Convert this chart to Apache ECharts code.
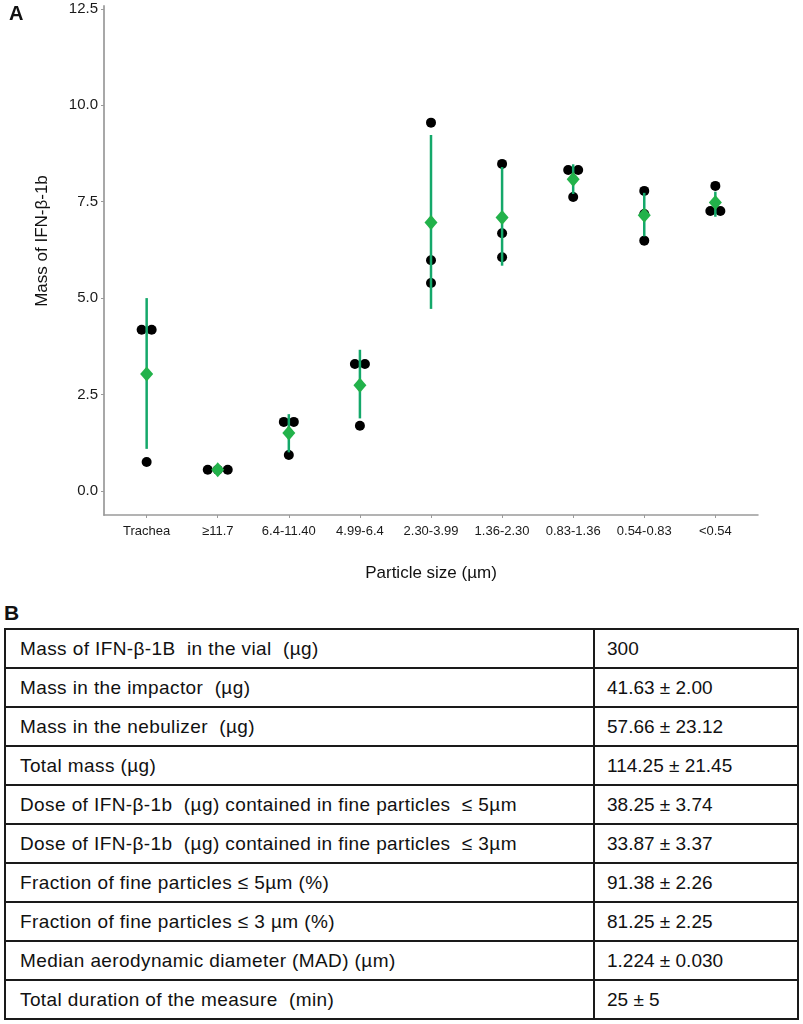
<!DOCTYPE html>
<html>
<head>
<meta charset="utf-8">
<script src="https://cdn.jsdelivr.net/npm/echarts@6/dist/echarts.min.js"></script>
<style>
  html, body { margin: 0; padding: 0; background: #fff; }
  #wrap { position: relative; width: 803px; height: 1024px; overflow: hidden; }
  #chart { position: absolute; left: 0; top: 0; width: 803px; height: 600px; }
  #lblB { position: absolute; left: 4px; top: 601px; font: bold 21px "Liberation Sans", Arial, sans-serif; color: #111; }
  #tbl { position: absolute; left: 4px; top: 628px; width: 795px; border-collapse: collapse;
         font: 19px "Liberation Sans", Arial, sans-serif; letter-spacing: 0.4px; color: #111; }
  #tbl td { border: 2px solid #1a1a1a; height: 37px; padding: 0 0 0 14px; white-space: pre; }
  #tbl td.v { padding-left: 12px; letter-spacing: 0; }
</style>
</head>
<body>
<div id="wrap">
  <div id="chart"></div>
  <div id="lblB">B</div>
  <table id="tbl"></table>
</div>
<script>
// ---- Panel A data ----
const categories = ['Trachea', '\u226511.7', '6.4-11.40', '4.99-6.4', '2.30-3.99', '1.36-2.30', '0.83-1.36', '0.54-0.83', '<0.54'];
const replicateValues = [
  [4.18, 4.18, 0.75],
  [0.55, 0.55, 0.55],
  [1.79, 1.79, 0.93],
  [3.29, 3.29, 1.69],
  [9.55, 5.98, 5.39],
  [8.48, 6.68, 6.06],
  [8.32, 8.32, 7.62],
  [7.78, 7.18, 6.49],
  [7.91, 7.26, 7.26]
];
const meanValues = [3.03, 0.55, 1.50, 2.74, 6.96, 7.09, 8.08, 7.15, 7.48];
const errLow  = [1.09, 0.48, 1.00, 1.88, 4.72, 5.84, 7.70, 6.60, 7.11];
const errHigh = [5.00, 0.62, 1.99, 3.66, 9.23, 8.40, 8.47, 7.73, 7.76];
const yTicks = [0, 2.5, 5, 7.5, 10, 12.5];

// ---- Panel B data ----
const tableLabels = [
  'Mass of IFN-\u03b2-1B  in the vial  (\u00b5g)',
  'Mass in the impactor  (\u00b5g)',
  'Mass in the nebulizer  (\u00b5g)',
  'Total mass (\u00b5g)',
  'Dose of IFN-\u03b2-1b  (\u00b5g) contained in fine particles  \u2264 5\u00b5m',
  'Dose of IFN-\u03b2-1b  (\u00b5g) contained in fine particles  \u2264 3\u00b5m',
  'Fraction of fine particles \u2264 5\u00b5m (%)',
  'Fraction of fine particles \u2264 3 \u00b5m (%)',
  'Median aerodynamic diameter (MAD) (\u00b5m)',
  'Total duration of the measure  (min)'
];
const tableValues = [
  '300',
  '41.63 \u00b1 2.00',
  '57.66 \u00b1 23.12',
  '114.25 \u00b1 21.45',
  '38.25 \u00b1 3.74',
  '33.87 \u00b1 3.37',
  '91.38 \u00b1 2.26',
  '81.25 \u00b1 2.25',
  '1.224 \u00b1 0.030',
  '25 \u00b1 5'
];

// build table
const tbl = document.getElementById('tbl');
tableLabels.forEach((lab, i) => {
  const tr = document.createElement('tr');
  const td1 = document.createElement('td'); td1.textContent = lab; td1.style.width = '573px';
  const td2 = document.createElement('td'); td2.textContent = tableValues[i]; td2.className = 'v';
  tr.appendChild(td1); tr.appendChild(td2); tbl.appendChild(tr);
});

// dodge overlapping replicate dots horizontally
const dotData = [];
replicateValues.forEach((vals, ci) => {
  const used = new Array(vals.length).fill(false);
  vals.forEach((v, i) => {
    if (used[i]) return;
    const grp = [i];
    for (let j = i + 1; j < vals.length; j++) {
      if (!used[j] && Math.abs(vals[j] - v) < 0.12) grp.push(j);
    }
    grp.forEach(k => used[k] = true);
    const offs = grp.length === 1 ? [0] : grp.length === 2 ? [-5, 5] : [-10, 0, 10];
    grp.forEach((k, n) => dotData.push({ value: [ci, vals[k]], symbolOffset: [offs[n], 0] }));
  });
});

const chart = echarts.init(document.getElementById('chart'), null, { renderer: 'canvas' });
const FONT = '"Liberation Sans", Arial, sans-serif';
chart.setOption({
  animation: false,
  backgroundColor: '#fff',
  grid: { left: 104, right: 45, top: 6, height: 509 },
  xAxis: {
    type: 'value', min: -0.6, max: 8.6,
    splitLine: { show: false },
    axisLine: { show: true, onZero: false, lineStyle: { color: '#9a9a9a', width: 1.5 } },
    axisTick: { show: true, length: 3, customValues: categories.map((c, i) => i), lineStyle: { color: '#9a9a9a' } },
    axisLabel: { customValues: categories.map((c, i) => i), formatter: v => categories[Math.round(v)] || '',
                 color: '#1a1a1a', fontSize: 13, fontFamily: FONT, margin: 10 }
  },
  yAxis: {
    type: 'value', min: -0.625, max: 12.575,
    splitLine: { show: false },
    axisLine: { show: true, onZero: false, lineStyle: { color: '#a8a8a8', width: 2 } },
    axisTick: { show: true, length: 3, customValues: yTicks, lineStyle: { color: '#9a9a9a' } },
    axisLabel: { customValues: yTicks, formatter: v => v.toFixed(1), color: '#1a1a1a', fontSize: 15, fontFamily: FONT, margin: 6 }
  },
  graphic: [
    { type: 'text', left: 9, top: 4, style: { text: 'A', font: 'bold 20px ' + FONT, fill: '#111' } },
    { type: 'text', x: 42, y: 241, rotation: Math.PI / 2,
      style: { text: 'Mass of IFN-\u03b2-1b', font: '17px ' + FONT, fill: '#111', align: 'center', verticalAlign: 'middle' } },
    { type: 'text', x: 431, y: 573,
      style: { text: 'Particle size (\u00b5m)', font: '17px ' + FONT, fill: '#111', align: 'center', verticalAlign: 'middle' } }
  ],
  series: [
    {
      type: 'scatter', name: 'replicates', z: 2,
      symbol: 'circle', symbolSize: 10,
      itemStyle: { color: '#000', opacity: 1 },
      data: dotData
    },
    {
      type: 'custom', name: 'sd', z: 3,
      encode: { x: 0, y: [1, 2] },
      data: categories.map((c, i) => [i, errLow[i], errHigh[i]]),
      renderItem: (params, api) => {
        const p1 = api.coord([api.value(0), api.value(1)]);
        const p2 = api.coord([api.value(0), api.value(2)]);
        return { type: 'line', shape: { x1: p1[0], y1: p1[1], x2: p2[0], y2: p2[1] },
                 style: { stroke: '#14a86a', lineWidth: 2.5 } };
      }
    },
    {
      type: 'scatter', name: 'mean', z: 4,
      symbol: 'diamond', symbolSize: [13, 15],
      itemStyle: { color: '#22b24a', opacity: 1 },
      data: meanValues.map((m, i) => [i, m])
    }
  ]
});
</script>
</body>
</html>
